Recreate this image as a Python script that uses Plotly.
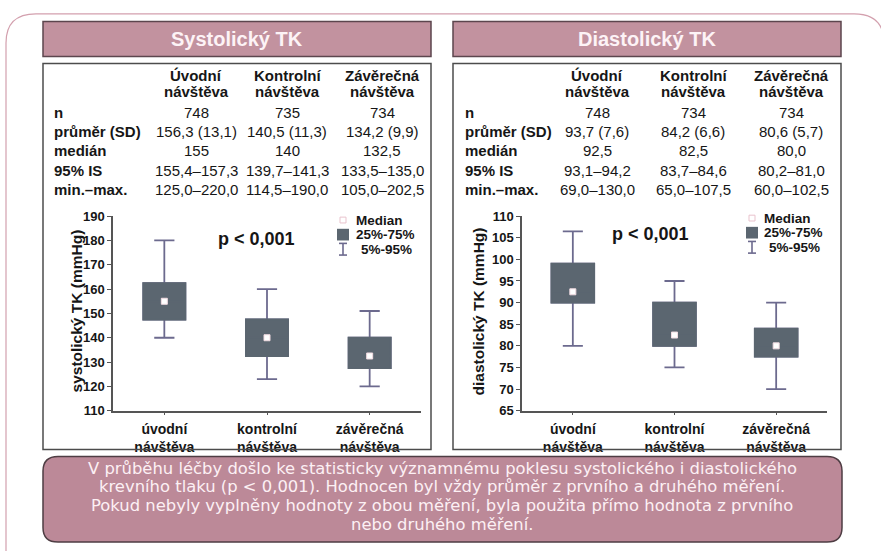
import plotly.graph_objects as go

W, H = 881, 551
FONT = "Liberation Sans, Arial, sans-serif"
NOTE_FONT = "DejaVu Sans, Liberation Sans, sans-serif"

# ---- data -------------------------------------------------------------
visit_ticks = ["úvodní<br>návštěva", "kontrolní<br>návštěva", "závěrečná<br>návštěva"]
col_head_1 = ["Úvodní", "Kontrolní", "Závěrečná"]
col_head_2 = ["návštěva", "návštěva", "návštěva"]
row_labels = ["n", "průměr (SD)", "medián", "95% IS", "min.–max."]

sys_table = [
    ["748", "735", "734"],
    ["156,3 (13,1)", "140,5 (11,3)", "134,2 (9,9)"],
    ["155", "140", "132,5"],
    ["155,4–157,3", "139,7–141,3", "133,5–135,0"],
    ["125,0–220,0", "114,5–190,0", "105,0–202,5"],
]
dia_table = [
    ["748", "734", "734"],
    ["93,7 (7,6)", "84,2 (6,6)", "80,6 (5,7)"],
    ["92,5", "82,5", "80,0"],
    ["93,1–94,2", "83,7–84,6", "80,2–81,0"],
    ["69,0–130,0", "65,0–107,5", "60,0–102,5"],
]

sys_q1 = [147.5, 132.5, 127.5]
sys_q3 = [162.5, 147.5, 140.0]
sys_p5 = [140.0, 123.0, 120.0]
sys_p95 = [180.0, 160.0, 151.0]

dia_q1 = [90.0, 80.0, 77.5]
dia_q3 = [99.0, 90.0, 84.0]
dia_p5 = [80.0, 75.0, 70.0]
dia_p95 = [106.5, 95.0, 90.0]

sys_ticks = [110, 120, 130, 140, 150, 160, 170, 180, 190]
dia_ticks = [65, 70, 75, 80, 85, 90, 95, 100, 105, 110]

note_lines = [
    "V průběhu léčby došlo ke statisticky významnému poklesu systolického i diastolického",
    "krevního tlaku (p < 0,001). Hodnocen byl vždy průměr z prvního a druhého měření.",
    "Pokud nebyly vyplněny hodnoty z obou měření, byla použita přímo hodnota z prvního",
    "nebo druhého měření.",
]


def num(s):
    return float(s.replace(",", "."))


# medians come straight from the "medián" row of each table
sys_med = [num(s) for s in sys_table[2]]
dia_med = [num(s) for s in dia_table[2]]

# ---- styling -----------------------------------------------------------
BOX_FILL = "#5b6670"
WHISKER = "#6c6a8e"
HEAD_FILL = "#c2929f"
HEAD_LINE = "#5c464e"
NOTE_FILL = "#bc8998"
NOTE_LINE = "#4e3d43"
FRAME = "#d3a0ae"
TEXT = "#161616"


def px(x):
    return x / W


def py(y):
    return 1 - y / H


def rrect_path(x0, y0, x1, y1, r):
    rx, ry = r / W, r / H
    a, b, c, d = px(x0), py(y0), px(x1), py(y1)
    return (f"M{a+rx},{b} L{c-rx},{b} Q{c},{b} {c},{b-ry} "
            f"L{c},{d+ry} Q{c},{d} {c-rx},{d} L{a+rx},{d} "
            f"Q{a},{d} {a},{d+ry} L{a},{b-ry} Q{a},{b} {a+rx},{b} Z")


fig = go.Figure()
shapes = []
ann = []


def add_panel(xa, ya, q1, med, q3, p5, p95, width, wwidth):
    x = [0, 1, 2]
    # whiskers (5%-95%) with the box body
    fig.add_trace(go.Box(
        x=x, q1=q1, median=med, q3=q3, lowerfence=p5, upperfence=p95,
        xaxis=xa, yaxis=ya, width=width, whiskerwidth=wwidth,
        fillcolor=BOX_FILL, line=dict(color=WHISKER, width=1.8),
        boxpoints=False, showlegend=False, hoverinfo="skip"))
    # solid 25%-75% body drawn over the outline and median line
    fig.add_trace(go.Box(
        x=x, q1=q1, median=med, q3=q3, lowerfence=q1, upperfence=q3,
        xaxis=xa, yaxis=ya, width=width, whiskerwidth=0,
        fillcolor=BOX_FILL, line=dict(color=BOX_FILL, width=1.8),
        boxpoints=False, showlegend=False, hoverinfo="skip"))
    # median markers
    fig.add_trace(go.Scatter(
        x=x, y=med, xaxis=xa, yaxis=ya, mode="markers",
        marker=dict(symbol="square", size=6, color="white",
                    line=dict(color="#f1dbe1", width=1)),
        showlegend=False, hoverinfo="skip"))


add_panel("x", "y", sys_q1, sys_med, sys_q3, sys_p5, sys_p95, 0.41, 0.48)
add_panel("x2", "y2", dia_q1, dia_med, dia_q3, dia_p5, dia_p95, 0.42, 0.47)


def panel(left, title, table, cols, label_x, ytitle, ytitle_x, pval_x, pval_y, leg):
    x0, x1 = left, left + 388
    # header bar
    shapes.append(dict(type="rect", xref="paper", yref="paper",
                       x0=px(x0), x1=px(x1), y0=py(51), y1=py(15),
                       fillcolor=HEAD_FILL, line=dict(color=HEAD_LINE, width=1.5)))
    ann.append(dict(text=f"<b>{title}</b>", x=px((x0 + x1) / 2), y=py(33),
                    font=dict(size=20, color="#fdf3f6", family=FONT)))
    # table frame
    shapes.append(dict(type="rect", xref="paper", yref="paper",
                       x0=px(x0), x1=px(x1), y0=py(455), y1=py(58),
                       line=dict(color="#4c4c4c", width=1.5)))
    for cx, h1, h2 in zip(cols, col_head_1, col_head_2):
        ann.append(dict(text=f"<b>{h1}</b>", x=px(cx), y=py(70),
                        font=dict(size=15, color=TEXT, family=FONT)))
        ann.append(dict(text=f"<b>{h2}</b>", x=px(cx), y=py(87),
                        font=dict(size=15, color=TEXT, family=FONT)))
    rows_y = [108, 128, 148, 168, 188]
    for ry, lab, vals in zip(rows_y, row_labels, table):
        ann.append(dict(text=f"<b>{lab}</b>", x=px(label_x), y=py(ry),
                        xanchor="left",
                        font=dict(size=15, color=TEXT, family=FONT)))
        for cx, v in zip(cols, vals):
            ann.append(dict(text=v, x=px(cx), y=py(ry),
                            font=dict(size=15, color=TEXT, family=FONT)))
    # axis title and p-value
    ann.append(dict(text=f"<b>{ytitle}</b>", x=px(ytitle_x), y=py(313),
                    textangle=-90, font=dict(size=15.5, color=TEXT, family=FONT)))
    ann.append(dict(text="<b>p < 0,001</b>", x=px(pval_x), y=py(pval_y),
                    font=dict(size=18, color=TEXT, family=FONT)))
    # legend
    mx, tx, y_med, y_box, y_whi = leg
    shapes.append(dict(type="rect", xref="paper", yref="paper",
                       x0=px(mx - 3), x1=px(mx + 3), y0=py(y_med + 3), y1=py(y_med - 3),
                       fillcolor="white", line=dict(color="#e9c3cd", width=1)))
    shapes.append(dict(type="rect", xref="paper", yref="paper",
                       x0=px(mx - 6), x1=px(mx + 6), y0=py(y_box + 6), y1=py(y_box - 6),
                       fillcolor=BOX_FILL, line=dict(width=0)))
    for seg in [(mx, y_whi - 6, mx, y_whi + 6), (mx - 4, y_whi - 6, mx + 4, y_whi - 6),
                (mx - 4, y_whi + 6, mx + 4, y_whi + 6)]:
        shapes.append(dict(type="line", xref="paper", yref="paper",
                           x0=px(seg[0]), y0=py(seg[1]), x1=px(seg[2]), y1=py(seg[3]),
                           line=dict(color=WHISKER, width=1.6)))
    for txt, yy, dx in [("Median", y_med, 0), ("25%-75%", y_box, 0), ("5%-95%", y_whi, 5)]:
        ann.append(dict(text=f"<b>{txt}</b>", x=px(tx + dx), y=py(yy), xanchor="left",
                        font=dict(size=13.5, color=TEXT, family=FONT)))


panel(43, "Systolický TK", sys_table, [196, 287, 382], 52,
      "systolický TK (mmHg)", 76, 256, 238, (343, 354, 219, 234, 249))
panel(453, "Diastolický TK", dia_table, [597, 693, 791], 463,
      "diastolický TK (mmHg)", 478, 650, 233, (752, 762, 217, 232, 247))

# note box
shapes.append(dict(type="path", xref="paper", yref="paper",
                   path=rrect_path(43, 462, 842, 550, 15),
                   fillcolor=NOTE_FILL, line=dict(color=NOTE_LINE, width=1.5)))
for i, line in enumerate(note_lines):
    ann.append(dict(text=line, x=px(442), y=py(474 + 19.3 * i),
                    font=dict(size=16.4, color="#fcf0f4", family=NOTE_FONT)))

# outer frame
shapes.insert(0, dict(type="path", xref="paper", yref="paper",
                      path=rrect_path(6, 7, 884, 600, 30),
                      line=dict(color=FRAME, width=1.2)))

for a in ann:
    a.update(xref="paper", yref="paper", showarrow=False)
    a.setdefault("xanchor", "center")
    a.setdefault("yanchor", "middle")


def bold(items):
    return [f"<b>{t}</b>" for t in items]


def xaxis(domain, anchor):
    return dict(domain=domain, anchor=anchor, range=[-0.5, 2.5],
                tickvals=[0, 1, 2], ticktext=bold(visit_ticks),
                tickfont=dict(size=14, color=TEXT, family=FONT, weight=700),
                ticks="outside", ticklen=3, tickcolor="#555", ticklabelstandoff=2,
                showline=True, linecolor="#555", linewidth=1.5,
                showgrid=False, zeroline=False, fixedrange=True)


def yaxis(domain, anchor, rng, ticks):
    return dict(domain=domain, anchor=anchor, range=rng, tickvals=ticks,
                ticktext=bold(ticks),
                tickfont=dict(size=13, color=TEXT, family=FONT, weight=700),
                ticks="outside", ticklen=4, tickcolor="#555",
                showline=True, linecolor="#555", linewidth=1.5,
                showgrid=False, zeroline=False, fixedrange=True)


ydom = [py(415), py(215)]
fig.update_layout(
    width=W, height=H, margin=dict(l=0, r=0, t=0, b=0),
    paper_bgcolor="white", plot_bgcolor="rgba(0,0,0,0)",
    boxmode="overlay", showlegend=False,
    xaxis=xaxis([px(113), px(421)], "y"),
    yaxis=yaxis(ydom, "x", [110, 190], sys_ticks),
    xaxis2=xaxis([px(522), px(827)], "y2"),
    yaxis2=yaxis(ydom, "x2", [65, 110], dia_ticks),
    shapes=shapes, annotations=ann,
    font=dict(family=FONT, color=TEXT),
)

fig.write_html("out.html")
